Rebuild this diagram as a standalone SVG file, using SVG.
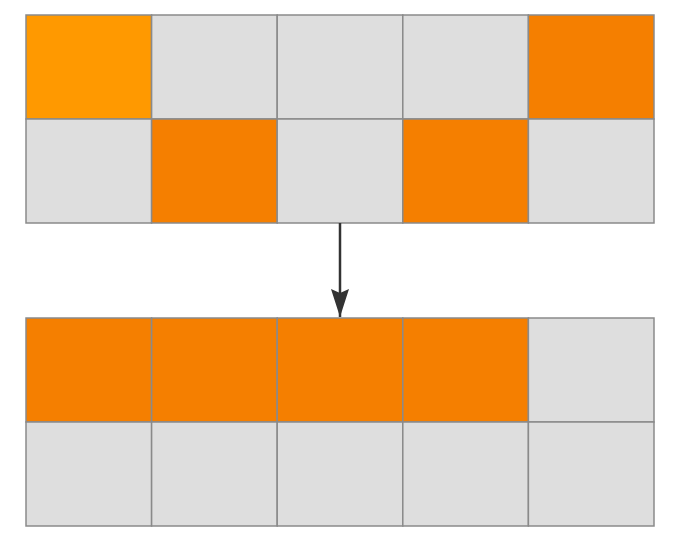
<svg xmlns="http://www.w3.org/2000/svg" width="686" height="548" viewBox="0 0 686 548">
<style>
.c{stroke:#8a8a8a;stroke-width:1.5}
.g{fill:#dedede}
.o{fill:#f57f00}
.y{fill:#ff9900}
</style>
<defs>
<marker id="ah" markerWidth="28" markerHeight="18" refX="28" refY="9" orient="auto" markerUnits="userSpaceOnUse" viewBox="0 0 28 18">
<path d="M0,0 L28,9 L0,18 L4,9 Z" fill="#333"/>
</marker>
</defs>
<rect width="686" height="548" fill="#fff"/>
<g id="top">
<rect class="c y" x="26" y="15" width="125.6" height="104"/>
<rect class="c g" x="151.6" y="15" width="125.6" height="104"/>
<rect class="c g" x="277.2" y="15" width="125.6" height="104"/>
<rect class="c g" x="402.8" y="15" width="125.6" height="104"/>
<rect class="c o" x="528.4" y="15" width="125.6" height="104"/>
<rect class="c g" x="26" y="119" width="125.6" height="104"/>
<rect class="c o" x="151.6" y="119" width="125.6" height="104"/>
<rect class="c g" x="277.2" y="119" width="125.6" height="104"/>
<rect class="c o" x="402.8" y="119" width="125.6" height="104"/>
<rect class="c g" x="528.4" y="119" width="125.6" height="104"/>
</g>
<g id="bottom">
<rect class="c o" x="26" y="318" width="125.6" height="104"/>
<rect class="c o" x="151.6" y="318" width="125.6" height="104"/>
<rect class="c o" x="277.2" y="318" width="125.6" height="104"/>
<rect class="c o" x="402.8" y="318" width="125.6" height="104"/>
<rect class="c g" x="528.4" y="318" width="125.6" height="104"/>
<rect class="c g" x="26" y="422" width="125.6" height="104"/>
<rect class="c g" x="151.6" y="422" width="125.6" height="104"/>
<rect class="c g" x="277.2" y="422" width="125.6" height="104"/>
<rect class="c g" x="402.8" y="422" width="125.6" height="104"/>
<rect class="c g" x="528.4" y="422" width="125.6" height="104"/>
</g>
<g id="connectors">
<line x1="340" y1="223" x2="340" y2="317" stroke="#333" stroke-width="2.5" marker-end="url(#ah)"/>
</g>
</svg>
